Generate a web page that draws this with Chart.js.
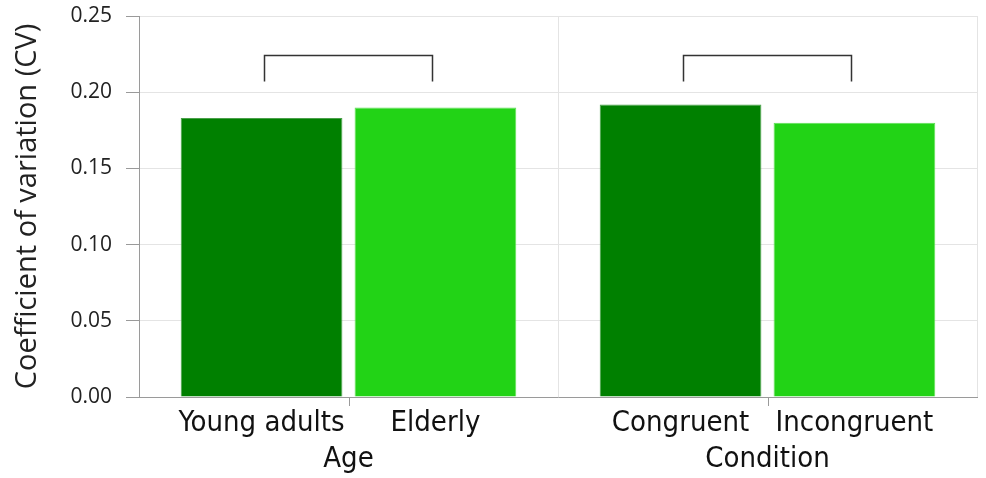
<!DOCTYPE html>
<html>
<head>
<meta charset="utf-8">
<script src="https://cdn.jsdelivr.net/npm/chart.js@4/dist/chart.umd.min.js"></script>
<style>
  html, body { margin: 0; padding: 0; background: #fff; }
  #wrap { width: 986px; height: 478px; }
</style>
</head>
<body>
<div id="wrap"><canvas id="cvChart"></canvas></div>
<script>
// groups on the x axis and the two bars inside each group
const groups = ["Age", "Condition"];
const firstLabels = ["Young adults", "Congruent"];
const secondLabels = ["Elderly", "Incongruent"];

// coefficient of variation
const firstValues = [0.183, 0.192];
const secondValues = [0.190, 0.180];

// comparison bracket over each group (y values)
const bracketTop = 0.224;
const bracketFoot = 0.207;

const labelFont = "'Liberation Sans Narrow', 'DejaVu Sans Condensed', sans-serif";

// sub labels under each bar, the small group ticks and the brackets
const groupDecor = {
  id: "groupDecor",
  afterDraw(chart) {
    const ctx = chart.ctx;
    const x = chart.scales.x;
    const y = chart.scales.y;
    const bottom = chart.chartArea.bottom;
    const metaA = chart.getDatasetMeta(0);
    const metaB = chart.getDatasetMeta(1);

    ctx.save();

    // small tick under the axis at each group centre
    ctx.strokeStyle = "#9a9a9a";
    ctx.lineWidth = 1;
    groups.forEach((g, i) => {
      const px = Math.round(x.getPixelForValue(i)) + 0.5;
      ctx.beginPath();
      ctx.moveTo(px, bottom);
      ctx.lineTo(px, bottom + 9);
      ctx.stroke();
    });

    // bar names
    ctx.fillStyle = "#111";
    ctx.font = "29px " + labelFont;
    ctx.textAlign = "center";
    ctx.textBaseline = "alphabetic";
    groups.forEach((g, i) => {
      ctx.fillText(firstLabels[i], metaA.data[i].x, bottom + 34);
      ctx.fillText(secondLabels[i], metaB.data[i].x, bottom + 34);
    });

    // brackets between the two bars
    ctx.strokeStyle = "#333";
    ctx.lineWidth = 1.5;
    const yTop = y.getPixelForValue(bracketTop);
    const yFoot = y.getPixelForValue(bracketFoot);
    groups.forEach((g, i) => {
      const c = x.getPixelForValue(i);
      const left = c - 84;
      const right = c + 84;
      ctx.beginPath();
      ctx.moveTo(left, yFoot);
      ctx.lineTo(left, yTop);
      ctx.lineTo(right, yTop);
      ctx.lineTo(right, yFoot);
      ctx.stroke();
    });

    ctx.restore();
  }
};

new Chart(
  document.getElementById("cvChart"),
  {
    type: "bar",
    data: {
      labels: groups,
      datasets: [
        {
          label: "First",
          data: firstValues,
          backgroundColor: "#008000",
          borderColor: "#4aa04a",
          borderWidth: 1,
          categoryPercentage: 0.83,
          barPercentage: 0.93
        },
        {
          label: "Second",
          data: secondValues,
          backgroundColor: "#22d316",
          borderColor: "#5ee055",
          borderWidth: 1,
          categoryPercentage: 0.83,
          barPercentage: 0.93
        }
      ]
    },
    options: {
      responsive: true,
      maintainAspectRatio: false,
      animation: false,
      layout: {
        padding: { top: 16, right: 9, left: 0, bottom: 0 }
      },
      plugins: {
        legend: { display: false },
        tooltip: { enabled: false }
      },
      scales: {
        x: {
          grid: {
            color: "#e4e4e4",
            offset: true,
            drawTicks: false
          },
          border: { color: "#9a9a9a", width: 1 },
          ticks: {
            color: "#111",
            font: { family: labelFont, size: 29 },
            padding: 45
          },
          afterFit(scale) {
            scale.height = 81;
          }
        },
        y: {
          min: 0,
          max: 0.25,
          grid: {
            color: "#e4e4e4",
            tickColor: "#9a9a9a",
            tickLength: 13
          },
          border: { color: "#9a9a9a", width: 1 },
          ticks: {
            stepSize: 0.05,
            color: "#222",
            padding: 14,
            font: { family: "'Open Sans', sans-serif", size: 21 },
            callback: v => v.toFixed(2)
          },
          title: {
            display: true,
            text: "Coefficient of variation (CV)",
            color: "#222",
            font: { family: "'Open Sans', sans-serif", size: 29 },
            padding: { top: 10, bottom: 0 }
          },
          afterFit(scale) {
            scale.width = 139;
            // let layout padding alone decide where the plot starts
            scale.paddingTop = 0;
            scale.paddingBottom = 0;
          }
        }
      }
    },
    plugins: [groupDecor]
  }
);
</script>
</body>
</html>
